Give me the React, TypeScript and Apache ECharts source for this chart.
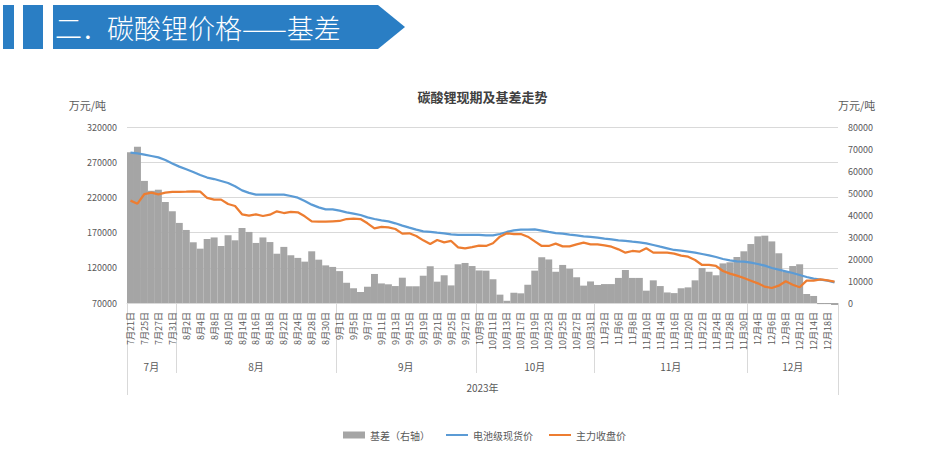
import React, { useEffect, useRef } from 'react';
import * as echarts from 'echarts';

const categories = [
  '7月21日', '7月24日', '7月25日', '7月26日', '7月27日', '7月28日', '7月31日',
  '8月1日', '8月2日', '8月3日', '8月4日', '8月7日', '8月8日', '8月9日', '8月10日', '8月11日', '8月14日', '8月15日', '8月16日', '8月17日', '8月18日', '8月21日', '8月22日', '8月23日', '8月24日', '8月25日', '8月28日', '8月29日', '8月30日', '8月31日',
  '9月1日', '9月4日', '9月5日', '9月6日', '9月7日', '9月8日', '9月11日', '9月12日', '9月13日', '9月14日', '9月15日', '9月18日', '9月19日', '9月20日', '9月21日', '9月22日', '9月25日', '9月26日', '9月27日', '9月28日',
  '10月9日', '10月10日', '10月11日', '10月12日', '10月13日', '10月16日', '10月17日', '10月18日', '10月19日', '10月20日', '10月23日', '10月24日', '10月25日', '10月26日', '10月27日', '10月30日', '10月31日',
  '11月1日', '11月2日', '11月3日', '11月6日', '11月7日', '11月8日', '11月9日', '11月10日', '11月13日', '11月14日', '11月15日', '11月16日', '11月17日', '11月20日', '11月21日', '11月22日', '11月23日', '11月24日', '11月27日', '11月28日', '11月29日', '11月30日',
  '12月1日', '12月4日', '12月5日', '12月6日', '12月7日', '12月8日', '12月11日', '12月12日', '12月13日', '12月14日', '12月15日', '12月18日', '12月19日',
];

const basis = [
  68500, 71000, 55500, 51000, 51500, 45900, 41700, 36400, 33200, 27600,
  24700, 29100, 29800, 25900, 30800, 28500, 34100, 32300, 27300, 29800,
  27700, 22400, 25500, 21700, 20500, 18800, 23500, 19700, 17100, 16400,
  14500, 9200, 6700, 5000, 7400, 13200, 8900, 8500, 7700, 11500,
  7600, 7600, 12400, 16700, 9700, 12600, 8000, 17600, 18200, 16800,
  14800, 14700, 10800, 3800, 1000, 4700, 4400, 8300, 14700, 20800,
  19800, 14200, 17300, 15500, 11700, 7900, 9800, 8200, 8600, 8600,
  11400, 15000, 11400, 11400, 5600, 10300, 7700, 4800, 4500, 6700,
  7100, 10300, 15900, 14200, 12600, 18000, 18500, 20900, 23500, 26800,
  30300, 30600, 28000, 22600, 14100, 16800, 17600, 4100, 3200, -500,
  -500, -900,
];

const spot = [
  283500, 282600, 280700, 278800, 276900, 273100, 268300, 263700, 259900, 256100,
  251800, 248200, 246100, 243300, 240500, 235800, 230000, 226400, 223900, 223900,
  223900, 223900, 223900, 222000, 219600, 214900, 209700, 205900, 203100, 203100,
  201200, 198800, 196900, 195000, 191700, 189300, 187400, 186000, 183200, 179900,
  177000, 174200, 171800, 170900, 169900, 169000, 167500, 166600, 166600, 166600,
  166600, 166100, 166100, 168000, 170900, 173200, 174200, 174200, 174600, 172800,
  170900, 169400, 168500, 167100, 166100, 164700, 163800, 162800, 161400, 160400,
  159000, 158100, 157100, 156200, 154800, 152400, 150000, 147700, 145300, 144300,
  142900, 141500, 139600, 137700, 135300, 132500, 130600, 129200, 128700, 127300,
  125400, 123000, 119700, 117400, 115000, 112600, 109800, 106900, 104600, 103100,
  101700, 99400,
];

const futures = [
  215400, 211100, 224800, 226700, 224400, 226700, 227700, 227700, 228100, 228600,
  228100, 219200, 216800, 216800, 210600, 207800, 196000, 194100, 196000, 193600,
  195500, 200200, 197800, 199300, 198800, 193100, 186000, 185500, 185500, 186000,
  186500, 189300, 189800, 189300, 183200, 176100, 178000, 177500, 175100, 168500,
  169000, 165200, 159000, 153800, 159500, 156200, 158100, 149100, 147700, 149500,
  151400, 151000, 154800, 164200, 169000, 168000, 168000, 164200, 157600, 151000,
  151000, 154300, 150500, 150500, 153300, 155700, 153300, 153300, 151900, 150000,
  146200, 141500, 143900, 142900, 147700, 141500, 141500, 141500, 140100, 137200,
  135800, 131100, 124000, 124000, 122600, 115500, 111700, 108800, 105500, 101700,
  97900, 93200, 91300, 94600, 100800, 96000, 92300, 101700, 101700, 103600,
  102200, 100300,
];

const seriesNames = ['基差（右轴）', '电池级现货价', '主力收盘价'];
const unitName = '万元/吨';
const yearLabel = '2023年';
const chartTitle = '碳酸锂现期及基差走势';
const headerNo = '二．';
const headerText = '碳酸锂价格——基差';

const FONT = '"Noto Sans CJK SC", "Noto Sans", sans-serif';
const TXT = '#595959';
const GRIDC = '#d9d9d9';
const BLUE_HDR = '#2a7ec4';

export default function App() {
  const ref = useRef<HTMLDivElement>(null);

  useEffect(() => {
    document.body.style.margin = '0';
    const chart = echarts.init(ref.current as HTMLDivElement, null, { renderer: 'svg' });
    const gridL = 127;
    const gridR = 101;
    const gridT = 127;
    const gridB = 153;

    chart.setOption({
      animation: false,
      backgroundColor: '#ffffff',
      textStyle: { fontFamily: FONT },
      grid: { left: gridL, right: gridR, top: gridT, bottom: gridB, containLabel: false, outerBoundsMode: 'none' },
      legend: {
        left: 338,
        top: 425,
        itemGap: 15,
        itemWidth: 22,
        itemHeight: 7,
        textStyle: { fontSize: 10, color: TXT, fontFamily: FONT },
        data: [
          { name: seriesNames[0], icon: 'rect' },
          { name: seriesNames[1], itemStyle: { opacity: 0 } },
          { name: seriesNames[2], itemStyle: { opacity: 0 } },
        ],
      },
      xAxis: {
        type: 'category',
        data: categories,
        boundaryGap: true,
        axisLine: { show: true, lineStyle: { color: GRIDC, width: 1 } },
        axisTick: { show: false },
        axisLabel: {
          interval: 1,
          rotate: 90,
          fontSize: 9,
          color: TXT,
          margin: 9,
          fontFamily: FONT,
        },
        splitLine: { show: false },
      },
      yAxis: [
        {
          type: 'value',
          min: 70000,
          max: 320000,
          interval: 50000,
          position: 'left',
          name: unitName,
          nameLocation: 'end',
          nameGap: 22,
          nameTextStyle: { fontSize: 11, color: TXT, align: 'right', verticalAlign: 'middle', padding: [0, 21, 0, 0], fontFamily: FONT },
          axisLine: { show: false },
          axisTick: { show: false },
          axisLabel: { fontSize: 9, color: TXT, margin: 10, fontFamily: FONT, formatter: (v: number) => String(v) },
          splitLine: { show: true, lineStyle: { color: GRIDC, width: 1 } },
        },
        {
          type: 'value',
          min: 0,
          max: 80000,
          interval: 10000,
          position: 'right',
          name: unitName,
          nameLocation: 'end',
          nameGap: 22,
          nameTextStyle: { fontSize: 11, color: TXT, align: 'left', verticalAlign: 'middle', padding: [0, 0, 0, 0], fontFamily: FONT },
          axisLine: { show: false },
          axisTick: { show: false },
          axisLabel: { fontSize: 9, color: TXT, margin: 10, fontFamily: FONT, formatter: (v: number) => String(v) },
          splitLine: { show: false },
        },
      ],
      series: [
        {
          name: seriesNames[0],
          type: 'bar',
          yAxisIndex: 1,
          data: basis,
          barCategoryGap: '0%',
          clip: false,
          itemStyle: { color: '#a5a5a5' },
          z: 1,
        },
        {
          name: seriesNames[1],
          type: 'line',
          yAxisIndex: 0,
          data: spot,
          symbol: 'none',
          showSymbol: false,
          lineStyle: { color: '#5b9bd5', width: 2.25 },
          itemStyle: { color: '#5b9bd5' },
          z: 3,
        },
        {
          name: seriesNames[2],
          type: 'line',
          yAxisIndex: 0,
          data: futures,
          symbol: 'none',
          showSymbol: false,
          lineStyle: { color: '#ed7d31', width: 2.25 },
          itemStyle: { color: '#ed7d31' },
          z: 4,
        },
      ],
    });

    // multi-level category axis (month groups + year) placed through the axis scale
    const cx = (i: number) => chart.convertToPixel({ xAxisIndex: 0 }, categories[i]) as number;
    const bw = cx(1) - cx(0);
    const edge = (k: number) => cx(0) - bw / 2 + k * bw;
    const axisY = chart.convertToPixel({ yAxisIndex: 0 }, 70000) as number;

    const groups: { label: string; start: number; end: number }[] = [];
    categories.forEach((c, i) => {
      const m = c.split('月')[0] + '月';
      const last = groups[groups.length - 1];
      if (last && last.label === m) last.end = i + 1;
      else groups.push({ label: m, start: i, end: i + 1 });
    });

    const els: any[] = [];
    // header banner
    els.push({ type: 'rect', shape: { x: 3, y: 5, width: 11, height: 44 }, style: { fill: BLUE_HDR }, silent: true });
    els.push({ type: 'rect', shape: { x: 23, y: 5, width: 20, height: 44 }, style: { fill: BLUE_HDR }, silent: true });
    els.push({
      type: 'polygon',
      shape: { points: [[53, 5], [378, 5], [405, 27], [378, 49], [53, 49]] },
      style: { fill: BLUE_HDR },
      silent: true,
    });
    els.push({
      type: 'text',
      x: 55,
      y: 27,
      style: { text: headerNo, fill: '#ffffff', font: `300 27px ${FONT}`, textAlign: 'left', textVerticalAlign: 'middle' },
      silent: true,
    });
    els.push({
      type: 'text',
      x: 107,
      y: 27,
      style: { text: headerText, fill: '#ffffff', font: `300 27px ${FONT}`, textAlign: 'left', textVerticalAlign: 'middle' },
      silent: true,
    });
    // chart title
    els.push({
      type: 'text',
      x: (edge(0) + edge(categories.length)) / 2,
      y: 96,
      style: { text: chartTitle, fill: '#404040', font: `bold 13px ${FONT}`, textAlign: 'center', textVerticalAlign: 'middle' },
      silent: true,
    });

    const bounds = new Set<number>();
    groups.forEach((g) => { bounds.add(g.start); bounds.add(g.end); });
    bounds.forEach((k) => {
      const outer = k === 0 || k === categories.length;
      const x = Math.round(edge(k)) + 0.5;
      els.push({
        type: 'line',
        shape: { x1: x, y1: axisY, x2: x, y2: outer ? axisY + 92 : axisY + 70 },
        style: { stroke: GRIDC, lineWidth: 1 },
        silent: true,
      });
    });
    groups.forEach((g) => {
      els.push({
        type: 'text',
        x: (edge(g.start) + edge(g.end)) / 2,
        y: axisY + 63,
        style: { text: g.label, fill: TXT, font: `10px ${FONT}`, textAlign: 'center', textVerticalAlign: 'middle' },
        silent: true,
      });
    });
    els.push({
      type: 'text',
      x: (edge(0) + edge(categories.length)) / 2,
      y: axisY + 84,
      style: { text: yearLabel, fill: TXT, font: `10px ${FONT}`, textAlign: 'center', textVerticalAlign: 'middle' },
      silent: true,
    });

    chart.setOption({ graphic: { elements: els } });

    return () => chart.dispose();
  }, []);

  return (
    <div
      ref={ref}
      style={{ position: 'absolute', left: 0, top: 0, width: 939, height: 456, background: '#ffffff' }}
    />
  );
}
